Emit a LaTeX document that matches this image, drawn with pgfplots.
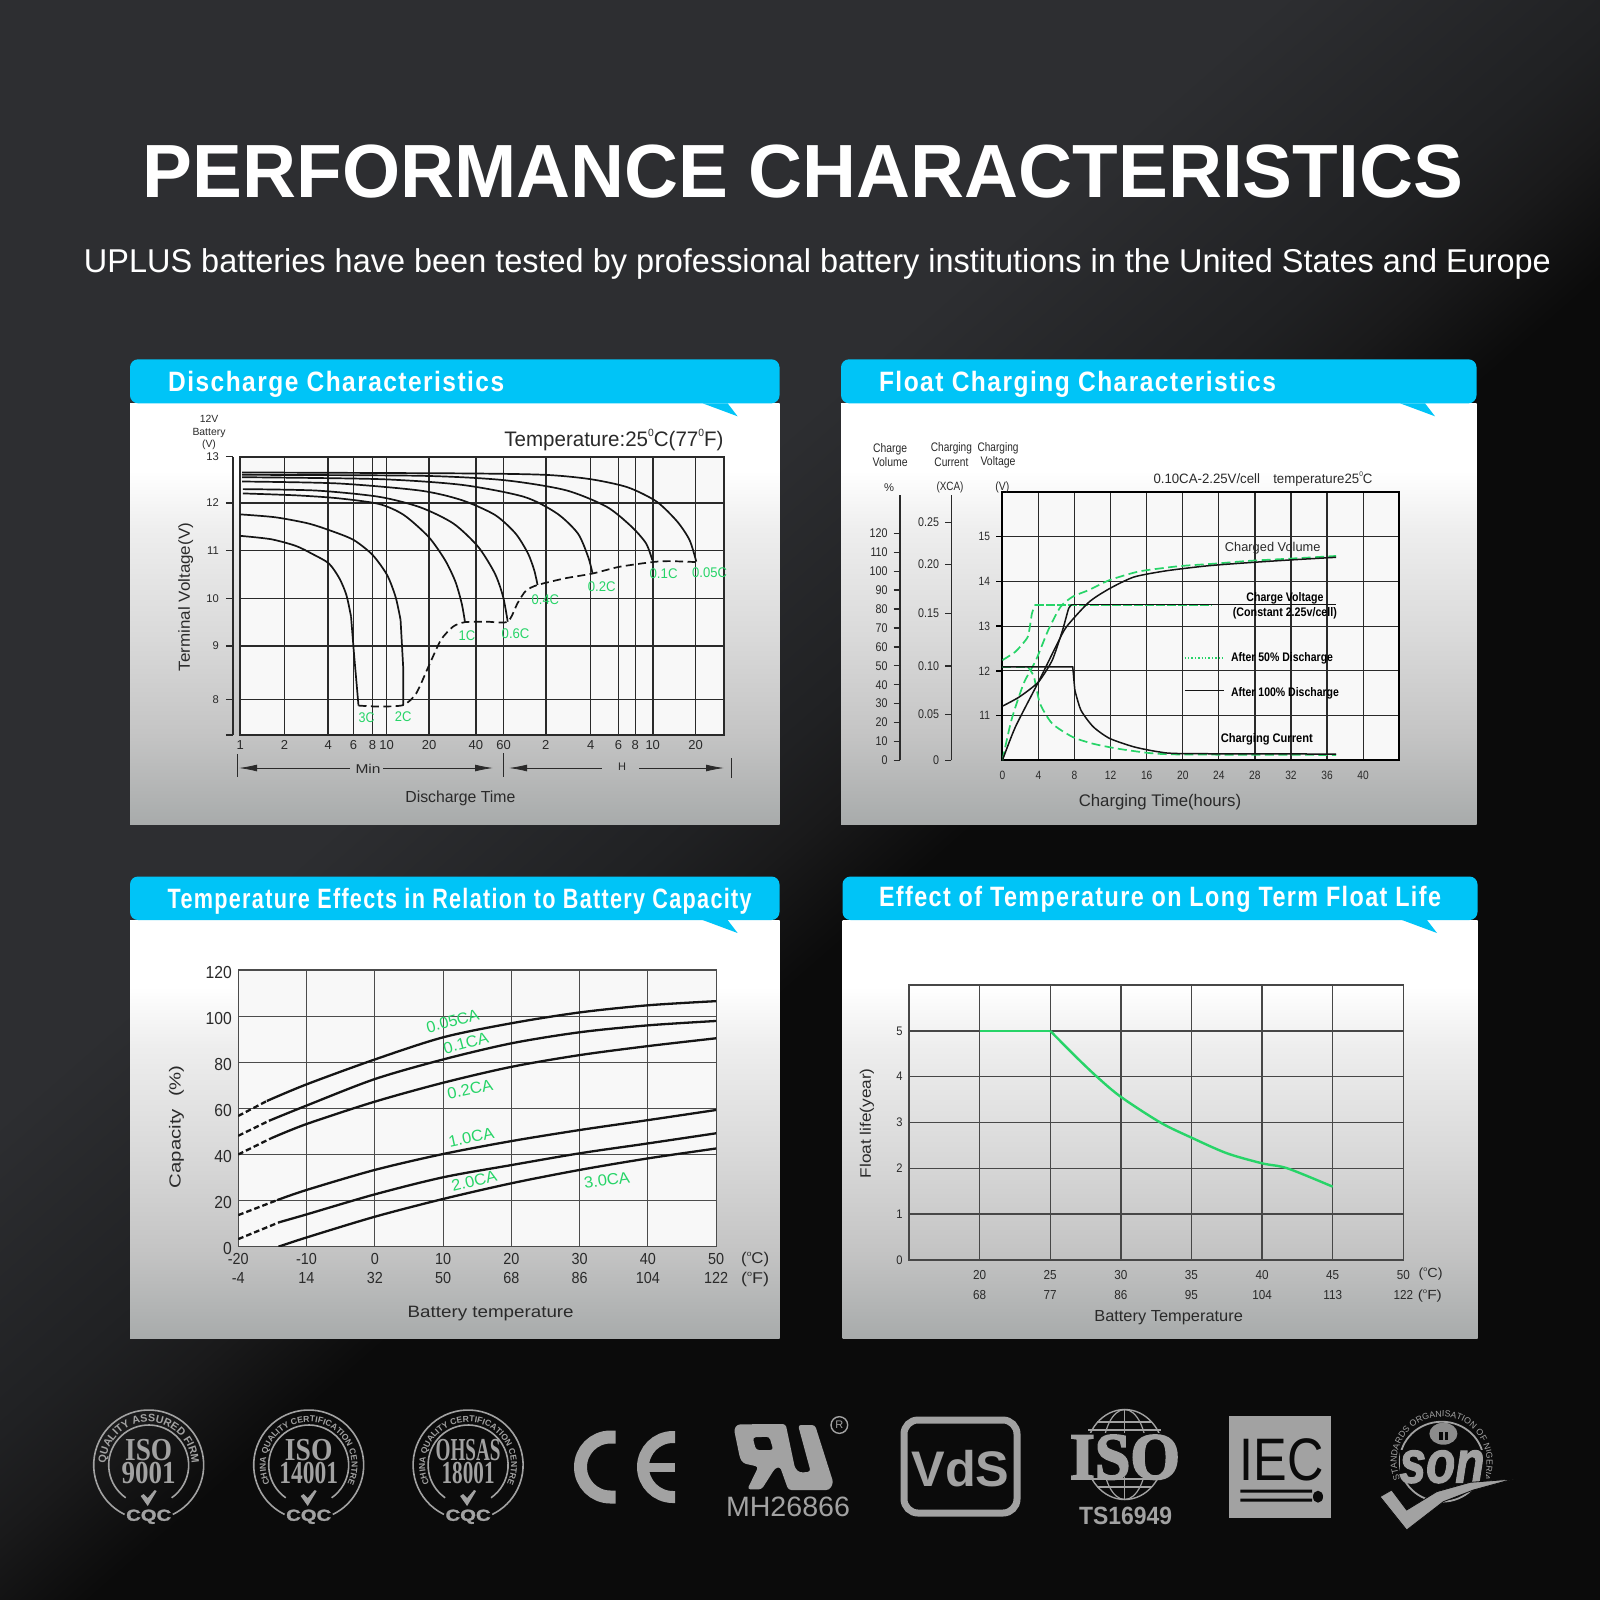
\documentclass[border=0pt]{standalone}
\usepackage{fontspec}
\setmainfont{Liberation Sans}
\newfontfamily\lsb{Liberation Serif}
\usepackage{graphicx}
\usepackage{pgfplots}
\pgfplotsset{compat=1.18}
\usetikzlibrary{decorations.text,arrows.meta}
\newdimen\pu \pu=0.5pt
\definecolor{lg}{HTML}{A2A2A2}
\definecolor{cy}{HTML}{00C4F7}
\definecolor{gr}{HTML}{27D468}
\definecolor{tk}{HTML}{2A2A2A}
\definecolor{ln}{HTML}{151515}
\definecolor{dk}{HTML}{0B0B0B}
\definecolor{b1}{HTML}{2D2E31}
\definecolor{b2}{HTML}{202123}
\definecolor{b3}{HTML}{1A1A1B}
\definecolor{p0}{HTML}{A8ABAB}
\definecolor{p1}{HTML}{C4C4C4}
\definecolor{p2}{HTML}{D9D9D9}
\definecolor{p3}{HTML}{EEEEEE}
\definecolor{pi}{HTML}{F8F8F8}
\newcommand\sups[1]{\raisebox{.48em}{\scalebox{.5}{#1}}}
\pgfdeclareverticalshading{panelsh}{100bp}{color(0bp)=(p0);color(25bp)=(p0);color(35.5bp)=(p1);color(47bp)=(p2);color(60bp)=(p3);color(67bp)=(white);color(100bp)=(white)}
\pgfdeclarehorizontalshading{bgsh}{100bp}{color(0bp)=(b1);color(41bp)=(b1);color(48.4bp)=(b2);color(50.8bp)=(b3);color(54.2bp)=(dk);color(100bp)=(dk)}
\newcommand\tx[6][]{\node[inner sep=0,#1] at (#2,#3) {\fontsize{#4}{#4}\selectfont\color{#5}\rule[-.14em]{0pt}{1em}\smash{#6}};}
\newcommand\fx[7][]{\node[inner sep=0,#1] at (#2,#3) {\fontsize{#4}{#4}\selectfont\color{#5}\rule[-.14em]{0pt}{1em}\smash{\resizebox{#6\pu}{\height}{#7}}};}
\newcommand\panel[6]{%
  \shade[shading=panelsh] (#1,#5) rectangle (#2,#4);
  \fill[cy,rounded corners=4pt] (#1,#3) rectangle (#2,#5);
  \fill[cy] (#6,#5) -- ({#6+35},{#5+13}) -- ({#6+25},#5) -- cycle;
}
\newcommand\cqc[7]{%
  \begin{scope}[shift={({#1*0.5pt},{-#2*0.5pt})},x=0.5pt,y=0.5pt]
  \draw[lg,line width=0.8pt] (244:55) arc[start angle=244,end angle=-64,radius=55];
  \draw[lg,line width=0.8pt] (235:40) arc[start angle=235,end angle=-55,radius=40];
  \path[decorate,decoration={text along path,text={|\color{lg}\bfseries\fontsize{#3}{#3}\selectfont|#4},text align=center}] (215:43) arc[start angle=215,end angle=-35,radius=43];
  \fill[lg] (-8,-31) -- (-5,-29) -- (-1,-33) -- (6,-25) -- (8,-26) -- (-1,-41) -- cycle;
  \fx{0}{16}{16}{lg}{#6}{\lsb\bfseries #5}
  \fx{0}{-7}{16}{lg}{#7}{\lsb\bfseries \cqcb}
  \fx{0}{-50}{8}{lg}{45}{\bfseries\addfontfeature{FakeBold=1.5}CQC}
  \end{scope}
}
\pgfplotsset{
  base/.style={scale only axis,anchor=south west,minor tick num=0,
     xtick style={draw=none},ytick style={draw=none},
     tick label style={text=tk}},
  side/.style={scale only axis,anchor=south west,width=1pt,xmin=0,xmax=1,
     axis y line*=left,axis x line=none,axis line style={line width=.8pt,tk},
     tick align=outside,major tick length=3.5pt,minor tick num=0,
     ytick style={line width=.7pt,tk},tick label style={text=tk}},
}
\begin{document}
\begin{tikzpicture}
\shade[shading=bgsh,shading angle=-48.8] (0pt,0pt) rectangle (800pt,-800pt);
\begin{scope}[x=0.5pt,y=-0.5pt]
\useasboundingbox (0,0) rectangle (1600,1600);
\panel{130}{779.5}{359.3}{824}{403.3}{702.6}
\panel{841}{1476.5}{359.3}{824}{403.3}{1400}
\panel{130}{779.5}{876.5}{1338}{920}{702.6}
\panel{842.5}{1477.5}{876.5}{1338}{920}{1402}
\coordinate (A1) at (240.3,735);
\coordinate (A1b) at (232.8,735);
\coordinate (A2) at (1002.4,760.3);
\coordinate (A2a) at (900,760.3);
\coordinate (A2b) at (951.4,760.3);
\coordinate (A3) at (238.2,1246.7);
\coordinate (A4) at (909,1260);
\end{scope}

% ---------- Discharge characteristics
\begin{axis}[base,at={(A1)},width=241.9pt,height=139.15pt,xmode=log,log basis x=10,
  xmin=1,xmax=1858,ymin=7.133,ymax=12.97,xminorticks=false,
  xtick={1,1.99,3.93,5.82,7.83,9.75,18.9,39,60.1,116,233,359,467,612,1191},
  xticklabels={1,2,4,6,8,10,20,40,60,2,4,6,8,10,20},
  ytick={7.88,9,10,11,12},yticklabels={},
  axis background/.style={fill=pi},
  grid=major,grid style={tk,line width=.8pt},axis line style={tk,line width=1.1pt},
  xticklabel style={font=\fontsize{6.5}{7}\selectfont,yshift=.6pt},
  every axis plot/.append style={ln,line width=.85pt,no markers}]
\addplot[smooth,tension=.45] coordinates {(1,11.31)(1.61,11.24)(2.37,11.10)(3.07,10.93)(3.97,10.73)(4.67,10.42)(5.21,10.07)(5.60,9.62)};
\addplot[] coordinates {(5.60,9.62)(5.86,8.85)(6.29,7.75)};
\addplot[smooth,tension=.45] coordinates {(1,11.76)(1.72,11.70)(2.88,11.57)(4.24,11.40)(5.86,11.22)(7.83,10.91)(9.81,10.49)(11.2,10.03)(12.1,9.55)};
\addplot[] coordinates {(12.1,9.55)(12.6,8.57)(12.6,7.76)};
\addplot[smooth,tension=.45] coordinates {(1.04,12.20)(2.37,12.16)(4.52,12.10)(8.62,11.98)(12.7,11.75)(18.7,11.29)(24.2,10.80)(28.4,10.35)(31.3,9.90)(33.0,9.50)};
\addplot[smooth,tension=.45] coordinates {(1.04,12.29)(3.27,12.26)(8.62,12.13)(16.4,11.91)(27.5,11.57)(40.5,11.08)(52.5,10.52)(59.7,10.03)(64.1,9.51)};
\addplot[smooth,tension=.45] coordinates {(1.03,12.45)(4.52,12.41)(16.4,12.26)(31.3,12.06)(52.5,11.75)(72.4,11.36)(87.9,10.94)(96.8,10.59)(102,10.28)};
\addplot[smooth,tension=.45] coordinates {(1.03,12.54)(8.62,12.50)(31.3,12.38)(82.4,12.13)(138,11.78)(191,11.36)(224,10.87)(240,10.52)};
\addplot[smooth,tension=.45] coordinates {(1.03,12.59)(16.4,12.57)(59.7,12.48)(157,12.27)(299,11.92)(441,11.50)(552,11.15)(608,10.80)};
\addplot[smooth,tension=.45] coordinates {(1.03,12.64)(31.3,12.62)(114,12.59)(231,12.50)(413,12.33)(649,12.03)(896,11.61)(1086,11.22)(1205,10.77)};
\addplot[smooth,tension=.4,dash pattern=on 4pt off 2.2pt] coordinates {(6.29,7.75)(8.62,7.73)(12.6,7.76)(15.4,8.0)(18.7,8.57)(22.7,9.13)(27.5,9.41)(33,9.50)(46.1,9.51)(64.1,9.51)(74.8,9.90)(85.1,10.16)(102,10.28)(157,10.42)(240,10.52)(363,10.66)(608,10.76)(787,10.78)(1205,10.76)};
\end{axis}
\begin{axis}[side,at={(A1b)},height=139.15pt,ymin=7.133,ymax=12.97,
  ytick={7.133,7.88,9,10,11,12,12.97},yticklabels={,8,9,10,11,12,13},
  yticklabel style={font=\fontsize{5.6}{6}\selectfont}]
\end{axis}

% ---------- Float charging
\begin{axis}[base,at={(A2)},width=198.4pt,height=134.15pt,xmin=0,xmax=44,ymin=10,ymax=16,
  xtick={0,4,...,40},xticklabels={0,4,8,12,16,20,24,28,32,36,40},
  ytick={11,12,13,14,15},yticklabels={11,12,13,14,15},ytick pos=left,
  axis background/.style={fill=pi},
  ytick style={draw=black,line width=.7pt},tick align=outside,major tick length=3.2pt,
  grid=major,grid style={tk,line width=.6pt},axis line style={black,line width=1pt},
  yticklabel style={font=\fontsize{6}{7}\selectfont,xscale=.85},
  xticklabel style={font=\fontsize{6}{7}\selectfont,xscale=.85,yshift=1.5pt},
  every axis plot/.append style={no markers}]
\addplot[gr,line width=.85pt,smooth,tension=.4,dash pattern=on 4.5pt off 2.2pt] coordinates {(0,10)(1,10.9)(2.36,11.72)(3.72,12.24)(5.08,12.91)(6.44,13.43)(7.8,13.66)(9.61,13.81)(11.88,14.03)(15.06,14.22)(18.23,14.31)(20.05,14.35)(23.67,14.40)(27.3,14.46)(31.84,14.51)(37,14.57)};
\addplot[gr,line width=.85pt,dash pattern=on 4.5pt off 2.2pt,smooth,tension=.3] coordinates {(0,12.24)(1.45,12.43)(2.81,12.76)(3.27,13.28)(3.63,13.48)};
\addplot[gr,line width=.85pt,dash pattern=on 4.5pt off 1pt] coordinates {(3.63,13.48)(23.2,13.48)};
\addplot[gr,line width=.85pt,dash pattern=on 4.5pt off 2.2pt] coordinates {(0,12.09)(2.81,12.09)};
\addplot[gr,line width=.85pt,smooth,tension=.4,dash pattern=on 4.5pt off 2.2pt] coordinates {(2.81,12.09)(3.49,11.87)(4.17,11.27)(5.53,10.82)(7.8,10.52)(10.07,10.37)(12.79,10.26)(16.42,10.16)(20.05,10.13)(37,10.12)};
\addplot[ln,line width=.75pt,smooth,tension=.4] coordinates {(0,10)(1.45,10.75)(3.99,11.75)(5.99,12.57)(7.12,12.99)(9.61,13.54)(11.88,13.84)(14.6,14.10)(18.23,14.24)(22.77,14.35)(27.3,14.42)(31.84,14.48)(37,14.54)};
\addplot[ln,line width=.75pt,smooth,tension=.35] coordinates {(0,11.21)(1.9,11.42)(3.99,11.75)(5.53,12.24)(6.67,12.91)(7.35,13.40)(7.71,13.48)};
\addplot[ln,line width=.75pt] coordinates {(7.71,13.48)(37,13.48)};
\addplot[ln,line width=.75pt] coordinates {(0,12.09)(7.8,12.09)(8.03,11.57)};
\addplot[ln,line width=.75pt,smooth,tension=.4] coordinates {(8.03,11.57)(8.71,11.12)(10.07,10.75)(11.88,10.49)(14.6,10.30)(17.32,10.19)(20.05,10.15)(37,10.14)};
\addplot[gr,line width=.7pt,densely dotted] coordinates {(20.2,12.29)(24.6,12.29)};
\addplot[ln,line width=.6pt] coordinates {(20.2,11.56)(24.6,11.56)};
\end{axis}
\begin{axis}[side,at={(A2a)},height=132.65pt,ymin=0,ymax=140.3,
  ytick={0,10,...,120},yticklabels={0,10,20,30,40,50,60,70,80,90,100,110,120},
  major tick length=3.2pt,axis line style={line width=.7pt,tk},
  yticklabel style={font=\fontsize{6.3}{7}\selectfont,xscale=.85}]
\end{axis}
\begin{axis}[side,at={(A2b)},height=132.65pt,ymin=0,ymax=.2787,
  ytick={0,.0483,.0991,.1544,.2059,.25},yticklabels={0,0.05,0.10,0.15,0.20,0.25},
  major tick length=3.2pt,axis line style={line width=.7pt,tk},
  yticklabel style={font=\fontsize{6.3}{7}\selectfont,xscale=.85}]
\end{axis}

% ---------- Temperature vs capacity
\begin{axis}[base,at={(A3)},width=239pt,height=138.35pt,xmin=-20,xmax=50,ymin=0,ymax=120,
  xtick={-20,-10,...,50},
  xticklabels={{-20\\-4},{-10\\14},{0\\32},{10\\50},{20\\68},{30\\86},{40\\104},{50\\122}},
  ytick={0,20,...,120},yticklabels={0,20,40,60,80,100,120},
  grid=major,grid style={black!70,line width=.45pt},axis line style={black!70,line width=.6pt},
  axis background/.style={fill=pi},
  yticklabel style={font=\fontsize{8.7}{9}\selectfont,xscale=.9,yshift=-1pt},
  xticklabel style={font=\fontsize{8}{9.2}\selectfont,xscale=.9,align=center},
  every axis plot/.append style={ln,line width=1.15pt,no markers}]
\addplot[dash pattern=on 2.8pt off 1.5pt] coordinates {(-20,56.7)(-15.8,63.2)};
\addplot[smooth] coordinates {(-15.8,63.2)(-10,70.4)(0,81.2)(10,90.8)(20,96.9)(30,101.6)(40,104.7)(50,106.5)};
\addplot[dash pattern=on 2.8pt off 1.5pt] coordinates {(-20,48.1)(-15.5,54.6)};
\addplot[smooth] coordinates {(-15.5,54.6)(-10,61.2)(0,72.7)(10,81.2)(20,88.2)(30,93)(40,96)(50,97.9)};
\addplot[dash pattern=on 2.8pt off 1.5pt] coordinates {(-20,40)(-15.2,47)};
\addplot[smooth] coordinates {(-15.2,47)(-10,53.2)(0,62.9)(10,71.1)(20,78)(30,83.1)(40,87)(50,90.4)};
\addplot[dash pattern=on 2.8pt off 1.5pt] coordinates {(-20,13.7)(-14.3,20.2)};
\addplot[smooth] coordinates {(-14.3,20.2)(-10,24.6)(0,33.3)(10,40.2)(20,45.8)(30,50.6)(40,54.9)(50,59.3)};
\addplot[dash pattern=on 2.8pt off 1.5pt] coordinates {(-20,3.3)(-14,10.6)};
\addplot[smooth] coordinates {(-14,10.6)(-10,14)(0,22.7)(10,30.1)(20,35.4)(30,40.5)(40,44.8)(50,49.2)};
\addplot[smooth] coordinates {(-14.1,0)(-10,4)(0,13)(10,20.7)(20,27.5)(30,33.3)(40,38.3)(50,42.6)};
\end{axis}

% ---------- Float life
\begin{axis}[base,at={(A4)},width=247.15pt,height=137.5pt,xmin=15,xmax=50,ymin=0,ymax=6,
  xtick={20,25,...,50},
  xticklabels={{20\\68},{25\\77},{30\\86},{35\\95},{40\\104},{45\\113},{50\\122}},
  ytick={0,...,5},yticklabels={0,1,2,3,4,5},
  grid=major,grid style={black!72,line width=.7pt},axis line style={black!72,line width=.8pt},
  yticklabel style={font=\fontsize{6.2}{7}\selectfont,xscale=.9},
  xticklabel style={font=\fontsize{6.5}{10.2}\selectfont,xscale=.9,align=center,yshift=-1.7pt}]
\addplot[gr,line width=1.2pt,no markers] coordinates {(20,5)(25,5)};
\addplot[gr,line width=1.2pt,no markers,smooth] coordinates {(25,5)(26.7,4.47)(28.3,4)(30,3.56)(32.8,3)(35,2.67)(37.5,2.33)(40,2.11)(41.8,2)(45,1.6)};
\end{axis}

\begin{scope}[x=0.5pt,y=-0.5pt]
% titles
\fx{803}{170}{37.7}{white}{1320}{\bfseries PERFORMANCE CHARACTERISTICS}
\fx{817.5}{261}{16.5}{white}{1467}{UPLUS batteries have been tested by professional battery institutions in the United States and Europe}
\fx[anchor=west]{167.8}{381}{14}{white}{336}{\bfseries\addfontfeature{LetterSpace=6}Discharge Characteristics}
\fx[anchor=west]{878.6}{381}{14}{white}{397}{\bfseries\addfontfeature{LetterSpace=6}Float Charging Characteristics}
\fx[anchor=west]{167.3}{898}{14}{white}{584}{\bfseries\addfontfeature{LetterSpace=6}Temperature Effects in Relation to Battery Capacity}
\fx[anchor=west]{878.6}{896}{14}{white}{562}{\bfseries\addfontfeature{LetterSpace=6}Effect of Temperature on Long Term Float Life}

% chart 1 texts
\tx{209}{419}{5.2}{tk}{12V}
\tx{209}{432}{5.2}{tk}{Battery}
\tx{209}{444}{5.2}{tk}{(V)}
\fx[anchor=west]{504}{439}{10.5}{tk}{219}{Temperature:25\sups{0}C(77\sups{0}F)}
\fx[rotate=90]{184}{597}{8}{tk}{148}{Terminal Voltage(V)}
\fx{460.4}{797}{8}{tk}{110}{Discharge Time}
\draw[tk,line width=.4pt] (237.8,754) -- (237.8,777) (503.5,753) -- (503.5,777) (731,758) -- (731,778);
\draw[tk,line width=.4pt,{Latex[length=9pt,width=3.4pt]}-] (239,768) -- (350,768);
\draw[tk,line width=.4pt,-{Latex[length=9pt,width=3.4pt]}] (383,768) -- (493,768);
\draw[tk,line width=.4pt,{Latex[length=9pt,width=3.4pt]}-] (509,768) -- (602,768);
\draw[tk,line width=.4pt,-{Latex[length=9pt,width=3.4pt]}] (639,768) -- (724,768);
\fx{368}{769}{6.4}{tk}{25}{Min}
\tx{622}{767}{5.5}{tk}{H}
\fx{366.7}{717.3}{7}{gr}{16}{3C}
\fx{403.2}{716.7}{7}{gr}{16.6}{2C}
\fx{467}{635}{7}{gr}{16.6}{1C}
\fx{515.6}{633.3}{7}{gr}{27.8}{0.6C}
\fx{545.4}{599.3}{7}{gr}{27.4}{0.4C}
\fx{601.8}{586.7}{7}{gr}{27.8}{0.2C}
\fx{663.6}{573.3}{7}{gr}{28}{0.1C}
\fx{709.6}{572.7}{7}{gr}{34.8}{0.05C}

% chart 2 texts
\fx{890.2}{447.7}{6.2}{tk}{34}{Charge}
\fx{890.2}{462.3}{6.2}{tk}{35}{Volume}
\fx{951.4}{447.3}{6.2}{tk}{41}{Charging}
\fx{951.4}{461.7}{6.2}{tk}{34}{Current}
\fx{998}{447}{6.2}{tk}{41}{Charging}
\fx{998}{461}{6.2}{tk}{35}{Voltage}
\tx{889}{487.3}{5.6}{tk}{\%}
\fx{950}{486}{6}{tk}{27}{(XCA)}
\fx{1002.4}{486}{6}{tk}{14}{(V)}
\fx{1263}{478.3}{6.8}{tk}{219}{0.10CA-2.25V/cell\hspace{1em}temperature25\sups{0}C}
\fx{1272.7}{547}{6.4}{tk}{95.5}{Charged Volume}
\fx{1284.9}{596.7}{6.2}{black}{77}{\bfseries Charge Voltage}
\fx{1284.9}{611.7}{6.2}{black}{104}{\bfseries (Constant 2.25v/cell)}
\fx[anchor=west]{1230.6}{656.7}{6.2}{black}{102}{\bfseries After 50\% Discharge}
\fx[anchor=west]{1230.6}{692}{6.2}{black}{108}{\bfseries After 100\% Discharge}
\fx[anchor=west]{1220.4}{738.3}{6.2}{black}{92}{\bfseries Charging Current}
\fx{1160}{800.7}{8.4}{tk}{162.4}{Charging Time(hours)}

% chart 3 texts
\fx[rotate=90]{174.8}{1126.7}{8}{tk}{123}{Capacity\hspace{.6em}(\%)}
\fx{490.7}{1312}{8.2}{tk}{166}{Battery temperature}
\fx{755.2}{1258.3}{7.8}{tk}{28}{(\sups{o}C)}
\fx{755.2}{1278.3}{7.8}{tk}{28}{(\sups{o}F)}
\fx[rotate=15]{452.6}{1020.7}{8}{gr}{54}{0.05CA}
\fx[rotate=15]{465.8}{1042.7}{8}{gr}{46}{0.1CA}
\fx[rotate=12]{470}{1089.3}{8}{gr}{46}{0.2CA}
\fx[rotate=12]{471.2}{1137.3}{8}{gr}{46}{1.0CA}
\fx[rotate=14]{474.1}{1180.7}{8}{gr}{46}{2.0CA}
\fx[rotate=8]{606.8}{1180}{8}{gr}{46}{3.0CA}

% chart 4 texts
\fx[rotate=90]{865.3}{1123.3}{7.6}{tk}{110}{Float life(year)}
\fx{1168.6}{1315.7}{8}{tk}{148.6}{Battery Temperature}
\fx{1430.6}{1273}{6.6}{tk}{24}{(\sups{o}C)}
\fx{1429.8}{1295}{6.6}{tk}{24}{(\sups{o}F)}

% CE
\begin{scope}[shift={(305.25pt,-733.5pt)},x=0.5pt,y=0.5pt]
\draw[lg,line width=6.5pt] (5,30) -- (0,30) arc[start angle=90,end angle=270,radius=30] -- (5,-30);
\end{scope}
\begin{scope}[shift={(336.5pt,-733.5pt)},x=0.5pt,y=0.5pt]
\draw[lg,line width=6pt] (2,30) -- (0,30) arc[start angle=90,end angle=270,radius=30] -- (2,-30);
\draw[lg,line width=4.5pt] (-29,0) -- (2,0);
\end{scope}

% UR
\begin{scope}[shift={(360pt,-700pt)},x=0.16667pt,y=-0.16667pt]
\fill[lg,even odd rule,rounded corners=1.5pt] (42,88) -- (52,73) -- (197,72) -- (225,205) -- (240,218) -- (272,215) -- (234,75) -- (285,75) -- (340,248) -- (328,270) -- (205,270) -- (180,200) -- (165,205) -- (125,268) -- (82,268) -- (115,200) -- (70,190) -- (60,175) -- cycle
  (98,112) -- (148,110) -- (160,150) -- (108,150) -- cycle;
\draw[lg,line width=.7pt] (358,75) circle[radius=25];
\end{scope}
\tx{839.3}{1425}{5.5}{lg}{R}
\fx{788}{1506.7}{14}{lg}{124}{MH26866}

% VdS
\draw[lg,line width=3.5pt,rounded corners=7pt] (904,1420) rectangle (1017,1513);
\fx{960.5}{1468}{25}{lg}{98}{\bfseries VdS}

% ISO TS16949
\draw[lg,line width=.7pt] (1124.7,1454.5) ellipse[x radius=39,y radius=45];
\draw[lg,line width=.6pt] (1124.7,1454.5) ellipse[x radius=22,y radius=45];
\draw[lg,line width=.6pt] (1124.7,1409.5) -- (1124.7,1499.5);
\draw[lg,line width=.6pt] (1097,1422) -- (1152,1422) (1088,1430) -- (1161,1430) (1097,1487) -- (1152,1487) (1088,1479) -- (1161,1479);
\fill[dk] (1066,1433) rectangle (1184,1477);
\fx{1125}{1455}{33}{lg}{110}{\lsb\bfseries\addfontfeature{FakeBold=3}ISO}
\fx{1125.6}{1515}{12.5}{lg}{93}{\bfseries TS16949}

% IEC
\fill[lg] (1229.4,1415.7) rectangle (1331.4,1518.3);
\fx{1281.8}{1458.5}{30}{dk}{84}{IEC}
\fill[dk] (1240.3,1489.5) rectangle (1312,1492.5) (1240.3,1498.5) rectangle (1312,1501.5);
\fill[dk] (1318,1496.7) ellipse[x radius=5,y radius=6];

% SON
\begin{scope}[shift={(720.85pt,-730.85pt)},x=0.5pt,y=0.5pt]
\draw[lg,line width=.9pt] (0,0) ellipse[x radius=42,y radius=40];
\path[decorate,decoration={text along path,text={|\color{lg}\fontsize{4.4}{4.4}\selectfont|STANDARDS ORGANISATION OF NIGERIA},text align=center}] (215:45) arc[start angle=215,end angle=-35,radius=45];
\fill[black!45] (1.7,28) ellipse[x radius=14,y radius=11];
\fill[dk] (-3,22) rectangle (6,30);
\fill[black!45] (1,22) rectangle (3,30);
\end{scope}
\fill[dk] (1400,1450) rectangle (1486,1481);
\fx{1442}{1461}{30}{lg}{85}{\bfseries\itshape\addfontfeature{FakeBold=2}son}
\begin{scope}[shift={(685pt,-697.5pt)},x=0.16667pt,y=-0.16667pt]
\fill[lg,draw=dk,line width=.4pt] (30,305) -- (65,285) -- (110,345) -- (200,290) -- (300,262) -- (430,252) -- (310,285) -- (220,320) -- (110,405) -- cycle;
\end{scope}
\end{scope}

% CQC logos
\def\cqcb{9001}
\cqc{148.7}{1465}{5.4}{QUALITY ASSURED FIRM}{ISO}{47}{54}
\def\cqcb{14001}
\cqc{308.7}{1465}{4.3}{CHINA QUALITY CERTIFICATION CENTRE}{ISO}{47.5}{58.7}
\def\cqcb{18001}
\cqc{468.1}{1465}{4.3}{CHINA QUALITY CERTIFICATION CENTRE}{OHSAS}{65}{53}
\end{tikzpicture}
\end{document}
